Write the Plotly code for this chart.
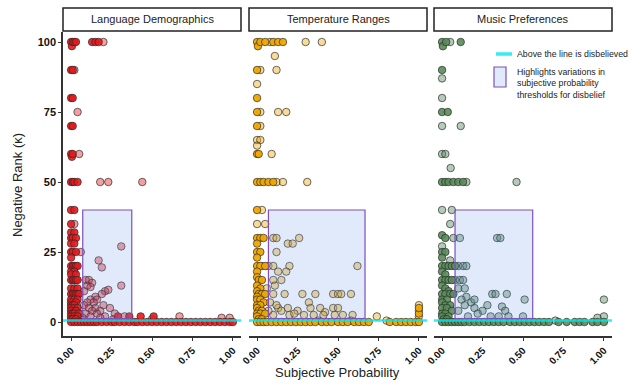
import plotly.graph_objects as go

W, H = 629, 380

PANELS = ["Language Demographics", "Temperature Ranges", "Music Preferences"]
X_TICKS = [0, 0.25, 0.5, 0.75, 1.0]
X_TICK_LABELS = ["0.00", "0.25", "0.50", "0.75", "1.00"]
Y_TICKS = [0, 25, 50, 75, 100]
Y_TICK_LABELS = ["0", "25", "50", "75", "100"]

# (subjective probability, negative rank) - strongly held responses
LANG_DARK = [(0,100),(0.005,98.5),(0.01,100),(0.02,100),(0.03,100),(0.13,100),(0.15,100),(0.17,100),
    (0,90),(0.01,90),(0,80),(0.01,80),(0,70),(0.01,70),(0,60),(0.005,59),(0.01,60),
    (0,50),(0.01,50),(0.02,50),(0.04,50),(0,40),(0.02,40),(0,35),
    (0,32),(0.02,32),(0,30),(0.01,30),(0.03,30),(0,28),(0.02,28),(0,25),(0.01,25),(0.03,25),(0,23),
    (0,20),(0.01,20),(0.02,20),(0.03,20),(0.04,20),(0,18),(0.02,18),(0,17),(0.03,17),
    (0,15),(0.01,15),(0.02,15),(0.03,15),(0.04,15),(0,12),(0.02,12),(0.04,12),
    (0,10),(0.01,10),(0.02,10),(0.03,10),(0.04,10),(0.05,10),(0,8),(0.02,8),(0.04,8),(0,7),(0.03,7),
    (0,6),(0.01,6),(0.02,6),(0,5),(0.02,5),(0.04,5),(0,4),(0.03,4),(0,3),(0.01,3),(0.02,3),(0.05,3),
    (0,2),(0.02,2),(0.04,2),(0,1),(0.01,1),(0.03,1),
    (0,0),(0.02,0),(0.04,0),(0.06,0),(0.08,0),(0.1,0),(0.12,0),(0.14,0),(0.16,0),(0.19,0),(0.22,0),
    (0.25,0),(0.27,0),(0.3,0),(0.33,0),(0.36,0),(0.39,0),(0.41,0),(0.44,0),(0.47,0),(0.5,0),(0.53,0),
    (0.56,0),(0.59,0),(0.62,0),(0.65,0),(0.68,0),(0.71,0),(0.74,0),(0.77,0),(0.8,0),(0.83,0),(0.86,0),
    (0.89,0),(0.92,0),(0.95,0),(0.98,0),(1.0,0),
    (0.29,2),(0.36,2),(0.43,2),(0.51,2)]
LANG_LIGHT = [(0.2,100),(0.02,90),(0.04,75),(0.05,60),(0.18,50),(0.23,50),(0.44,50),(0.02,35),(0.06,25),
    (0.31,27),(0.17,22),(0.19,19.5),(0.09,15),(0.11,15),(0.13,14),(0.1,13),(0.12,12.5),(0.31,13),
    (0.08,11),(0.21,11),(0.23,11.5),(0.19,10),(0.15,9),(0.12,8),(0.16,8),(0.14,7),(0.1,7),(0.2,6),
    (0.08,6),(0.11,5),(0.24,5),(0.15,5),(0.13,4),(0.18,4),(0.09,3),(0.16,3),(0.27,3),(0.12,2),
    (0.21,2),(0.33,2),(0.07,1.5),(0.18,1.5),(0.67,2),(0.93,1.5),(0.98,1.5),(0.5,1),(0.26,1)]

TEMP_DARK = [(0,100),(0.005,98.5),(0.02,100),(0.05,100),(0.1,100),(0.13,100),(0.16,100),
    (0,90),(0,80),(0,75),(0,70),(0,60),(0.01,60),(0,50),(0.02,50),(0.04,50),(0.07,50),(0.1,50),
    (0,40),(0,30),(0.02,30),(0.04,30),(0,28),(0,25),(0.02,25),(0,23),(0,20),(0.02,20),(0.05,20),
    (0,18),(0,16),(0.01,15),(0.03,15),(0,13),(0.02,12),(0,11),(0.01,10),(0.03,10),(0.05,10),(0,9),
    (0,8),(0.02,8),(0.04,7),(0,6),(0.02,6),(0,5),(0.01,4),(0.03,4),(0,3),(0.02,3),(0.05,3),(0,2),
    (0.01,1),(0.03,1),
    (0,0),(0.02,0),(0.04,0),(0.06,0),(0.09,0),(0.12,0),(0.15,0),(0.18,0),(0.21,0),(0.24,0),(0.27,0),
    (0.3,0),(0.33,0),(0.36,0),(0.4,0),(0.43,0),(0.46,0),(0.5,0),(0.53,0),(0.56,0),(0.6,0),(0.63,0),
    (0.66,0),(0.69,0),(0.82,0),(0.86,0),(0.89,0),(0.92,0),(0.95,0),(0.98,0),(1.0,0),(1.0,3),(1.0,5)]
TEMP_LIGHT = [(0.3,100),(0.4,100),(0.08,100),(0.11,95),(0.02,90),(0.12,90),(0,85),(0.02,75),(0.13,75),
    (0.18,75),(0.02,70),(0,65),(0.02,65),(0,63),(0.09,60),(0.12,50),(0.16,50),(0.31,50),(0.03,40),
    (0,35),(0.05,35),(0.1,30),(0.12,30),(0.26,30),(0.19,28),(0.22,28),(0.12,25),(0.03,20),(0.07,20),
    (0.1,20),(0.2,20),(0.62,20),(0.13,18),(0.18,18),(0.1,15),(0.15,15),(0.11,13),(0.06,12),(0.1,10),
    (0.17,10),(0.28,10),(0.36,10),(0.47,10),(0.5,10),(0.52,10),(0.58,10),(0.32,7),(0.08,7),(0.13,5),
    (0.19,5),(0.33,5),(0.39,5),(0.47,5),(0.5,5),(0.25,4),(0.15,4),(0.42,3.5),(0.1,2.5),(0.2,2.5),
    (0.29,2.5),(0.35,2.5),(0.41,2.5),(0.48,2.5),(0.53,2.5),(0.59,2.5),(0.74,2),(0.23,3),(0.12,6),
    (0.07,4),(1.0,6),(1.0,4),(1.0,2),(0.8,0.5),(0.58,0.5),(0.38,0.5)]

MUSIC_DARK = [(0,100),(0.005,98.5),(0.025,100),(0.115,100),(0,90),(0,75),(0.035,75),(0,50),(0.02,50),
    (0.04,50),(0.07,50),(0.1,50),(0.13,50),(0,31),(0.02,30),(0,25),(0.02,25),(0,23),(0,20),(0.02,20),
    (0.04,20),(0.06,20),(0.08,20),(0,18),(0.02,17),(0,15),(0.02,15),(0.04,15),(0.06,15),(0,13),
    (0.02,12),(0.04,11),(0,10),(0.02,10),(0.05,10),(0.07,10),(0,8),(0.03,8),(0,7),(0.02,6),(0.05,6),
    (0,5),(0.03,5),(0.06,4),(0,3),(0.02,3),(0.04,2),(0,2),(0.01,1),(0.03,1),
    (0,0),(0.02,0),(0.04,0),(0.06,0),(0.08,0),(0.1,0),(0.12,0),(0.14,0),(0.17,0),(0.2,0),(0.23,0),
    (0.26,0),(0.29,0),(0.32,0),(0.35,0),(0.38,0),(0.42,0),(0.45,0),(0.48,0),(0.51,0),(0.54,0),
    (0.57,0),(0.6,0),(0.63,0),(0.66,0),(0.72,0),(0.77,0),(0.82,0),(0.85,0),(0.88,0),(0.93,0),
    (0.96,0),(1.0,0)]
MUSIC_LIGHT = [(0.05,100),(0,87),(0,80),(0,70),(0.115,70),(0,60),(0.02,60),(0.053,55),(0.15,50),
    (0.46,50),(0,40),(0.06,40),(0.05,35),(0.07,30),(0.11,30),(0.34,30),(0.36,30),(0,27),(0.05,22),
    (0.1,20),(0.13,20),(0.15,20),(0.08,15),(0.11,15),(0.13,15),(0.1,12),(0.14,12),(0.31,10),
    (0.33,10),(0.4,10),(0.51,8),(1.0,8),(0.15,9),(0.12,8),(0.18,7),(0.14,6),(0.28,6),(0.37,5.5),
    (0.2,5),(0.25,4),(0.39,4),(0.1,4),(0.22,3),(0.16,2),(0.3,2),(0.35,2),(0.41,2),(0.5,2),(1.0,2),
    (0.96,1.5),(0.7,0.5),(0.2,8)]

# threshold regions (x0, x1, y0, y1) per panel
RECTS = [(0.072, 0.375, 1.2, 40), (0.07, 0.667, 1.2, 40), (0.08, 0.56, 1.2, 40)]
DISBELIEF_LINE = 0.5

DARK = ["rgba(228,26,28,0.9)", "rgba(240,165,0,0.95)", "rgba(88,140,88,0.9)"]
LIGHT = ["rgba(228,26,28,0.42)", "rgba(240,165,0,0.4)", "rgba(88,140,100,0.45)"]

FONT = "Liberation Sans, Arial, sans-serif"

data = [(LANG_DARK, LANG_LIGHT), (TEMP_DARK, TEMP_LIGHT), (MUSIC_DARK, MUSIC_LIGHT)]

panel_px = [(63, 241), (249, 427), (434, 612)]
top_px, bot_px = 32, 336
y_dom = [1 - bot_px / H, 1 - top_px / H]
y_range = [-5, -5 + (bot_px - top_px) / 2.8]

fig = go.Figure()
shapes = []
annotations = []
layout = {}

for i, name in enumerate(PANELS):
    sfx = "" if i == 0 else str(i + 1)
    xa, ya = "x" + sfx, "y" + sfx
    dark, light = data[i]
    for pts, col in ((light, LIGHT[i]), (dark, DARK[i])):
        fig.add_trace(go.Scatter(
            x=[p[0] for p in pts], y=[p[1] for p in pts], mode="markers",
            xaxis=xa, yaxis=ya, showlegend=False, hoverinfo="skip",
            marker=dict(size=7.5, color=col, line=dict(color="rgba(40,40,40,0.85)", width=0.8))))
    x0p, x1p = panel_px[i]
    layout["xaxis" + sfx] = dict(
        domain=[x0p / W, x1p / W], range=[-0.05, 1.05], anchor=ya, automargin=False,
        tickvals=X_TICKS, ticktext=X_TICK_LABELS, tickangle=-45,
        tickfont=dict(family=FONT, size=10, color="#111", weight="bold"),
        ticks="outside", ticklen=3, tickcolor="#333", showgrid=False, zeroline=False,
        showline=True, linecolor="#333", linewidth=1.5, mirror=False)
    layout["yaxis" + sfx] = dict(
        domain=y_dom, range=y_range, anchor=xa, showgrid=False, zeroline=False, automargin=False,
        tickvals=Y_TICKS, ticktext=Y_TICK_LABELS,
        showticklabels=(i == 0), ticks="outside" if i == 0 else "", ticklen=3, tickcolor="#333",
        tickfont=dict(family=FONT, size=11, color="#111", weight="bold"),
        showline=(i == 0), linecolor="#333", linewidth=1.5)
    rx0, rx1, ry0, ry1 = RECTS[i]
    shapes.append(dict(type="rect", xref=xa, yref=ya, x0=rx0, x1=rx1, y0=ry0, y1=ry1,
                       fillcolor="rgba(100,149,237,0.2)", line=dict(color="#7E50B8", width=1.2),
                       layer="above"))
    shapes.append(dict(type="line", xref=xa + " domain", yref=ya, x0=0, x1=1,
                       y0=DISBELIEF_LINE, y1=DISBELIEF_LINE,
                       line=dict(color="rgba(0,232,240,0.8)", width=2.5), layer="above"))
    # strip header
    shapes.append(dict(type="rect", xref="paper", yref="paper", x0=x0p / W, x1=x1p / W,
                       y0=1 - 31 / H, y1=1 - 8 / H, fillcolor="white",
                       line=dict(color="#222", width=1.5)))
    annotations.append(dict(text=name, xref="paper", yref="paper", x=(x0p + x1p) / 2 / W,
                            y=1 - 19.5 / H, showarrow=False, xanchor="center", yanchor="middle",
                            font=dict(family=FONT, size=11, color="#222")))

# axis titles
annotations.append(dict(text="Subjective Probability", xref="paper", yref="paper",
                        x=337 / W, y=1 - 372 / H, showarrow=False, xanchor="center",
                        yanchor="middle", font=dict(family=FONT, size=13, color="#222")))
annotations.append(dict(text="Negative Rank (κ)", xref="paper", yref="paper",
                        x=17 / W, y=1 - 185 / H, showarrow=False, textangle=-90,
                        xanchor="center", yanchor="middle",
                        font=dict(family=FONT, size=13, color="#222")))

# legend (drawn manually)
shapes.append(dict(type="line", xref="paper", yref="paper", x0=496 / W, x1=512 / W,
                   y0=1 - 54 / H, y1=1 - 54 / H, line=dict(color="rgba(0,232,240,0.8)", width=3.5)))
shapes.append(dict(type="rect", xref="paper", yref="paper", x0=494 / W, x1=506 / W,
                   y0=1 - 87 / H, y1=1 - 67 / H, fillcolor="rgba(100,149,237,0.2)",
                   line=dict(color="#7E50B8", width=1.2)))
annotations.append(dict(text="Above the line is disbelieved", xref="paper", yref="paper",
                        x=515 / W, y=1 - 54.5 / H, showarrow=False, xanchor="left",
                        yanchor="middle", font=dict(family=FONT, size=8.8, color="#222")))
annotations.append(dict(text="Highlights variations in<br>subjective probability<br>thresholds for disbelief",
                        xref="paper", yref="paper", x=515 / W, y=1 - 65 / H, showarrow=False,
                        xanchor="left", yanchor="top", align="left",
                        font=dict(family=FONT, size=8.8, color="#222")))

fig.update_layout(width=W, height=H, margin=dict(l=0, r=0, t=0, b=0, autoexpand=False),
                  paper_bgcolor="white", plot_bgcolor="white",
                  shapes=shapes, annotations=annotations, **layout)

fig.write_html("out.html")
